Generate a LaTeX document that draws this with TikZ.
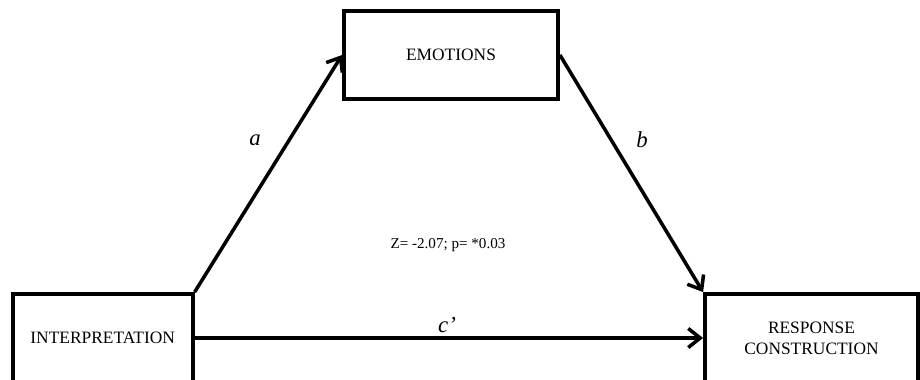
\documentclass[tikz,border=0pt]{standalone}
\usepackage{fontspec}
\setmainfont{Liberation Serif}
\usetikzlibrary{arrows.meta, positioning}

\begin{document}
\begin{tikzpicture}[
    x=0.02cm, y=-0.02cm,
    font=\fontsize{9.9}{12}\selectfont,
    box/.style={draw, line width=2.2pt, align=center, inner sep=0pt, minimum height=1.76cm},
    arrow/.style={-{Straight Barb[length=2.4mm, width=3.8mm]}, line width=2pt},
    coef/.style={font=\fontsize{13}{15}\selectfont\itshape}
]
\useasboundingbox (0,0) rectangle (920,379);

\node[box, minimum width=4.28cm] (emo) at (451,55) {EMOTIONS};
\node[box, minimum width=3.6cm] (interp) at (102.7,338) {INTERPRETATION};
\node[box, minimum width=4.26cm] (resp) at (811.5,338) {RESPONSE\\CONSTRUCTION};

\draw[arrow] (interp.north east) -- (emo.west);
\draw[arrow] (emo.east) -- (resp.north west);
\draw[arrow] (interp.east) -- (resp.west);

\node[coef] (lbla) at (255,140) {a};
\node[coef] (lblb) at (642,140) {b};
\node[coef] (lblc) at (447,325) {c’};
\node[font=\fontsize{8.6}{10}\selectfont] (ztest) at (448,245) {Z= -2.07; p= *0.03};

\end{tikzpicture}
\end{document}
